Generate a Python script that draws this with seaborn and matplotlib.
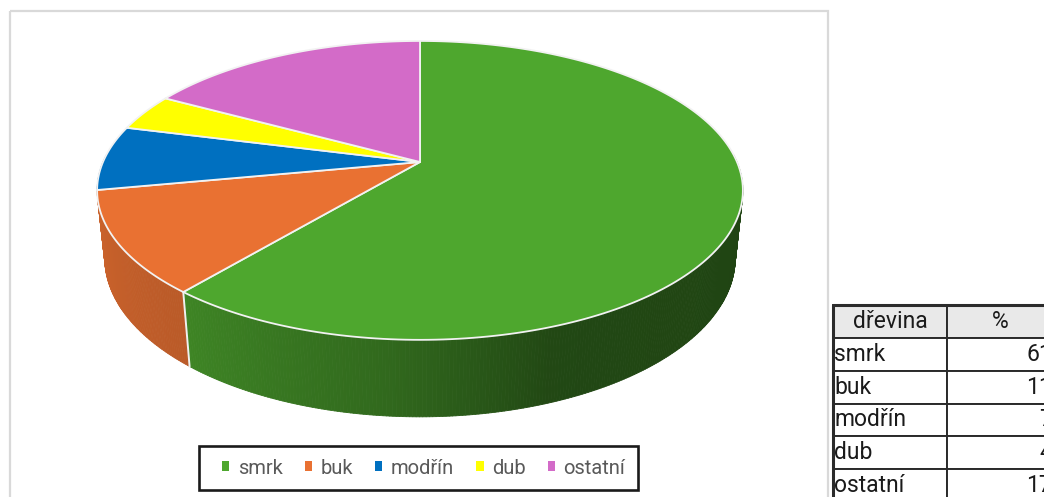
import numpy as np
import matplotlib
matplotlib.use("Agg")
import matplotlib.pyplot as plt
from matplotlib.patches import Polygon, Rectangle, Patch
from matplotlib.collections import PolyCollection
import seaborn as sns

# Tree species composition (%)
species = ["smrk", "buk", "modřín", "dub", "ostatní"]
shares = [61, 11, 7, 4, 17]
slice_colors = ["#4EA72E", "#E97132", "#0070C0", "#FFFF00", "#D36BC8"]
table_header = ["dřevina", "%"]

sns.set_theme(style="white")
plt.rcParams["font.family"] = ["Roboto", "DejaVu Sans"]

W, H = 1044, 497
fig = plt.figure(figsize=(W / 100, H / 100), dpi=100)
ax = fig.add_axes([0, 0, 1, 1])
ax.set_xlim(0, W)
ax.set_ylim(H, 0)
ax.axis("off")

# chart area frame
ax.add_patch(Rectangle((10, 11), 818, 520, fill=False, edgecolor="#d9d9d9",
                       lw=1.6, zorder=1))

# --- 3D pie: perspective projection of a tilted disc ---
CX, CY, R = 420, 162, 317
sin_e = 0.4544
cos_e = np.sqrt(1 - sin_e ** 2)
dist = 4.687
thick = 0.242


def project(theta, z, r=1.0):
    X = r * np.sin(theta)
    Y = r * np.cos(theta)
    yv = Y * sin_e + z * cos_e
    depth = Y * cos_e - z * sin_e
    s = dist / (dist + depth)
    return CX + R * X * s, CY - R * yv * s, depth


def side_shade(theta_deg):
    return np.interp(theta_deg, [90, 160, 185, 220, 270],
                     [0.40, 0.43, 0.63, 0.80, 0.90])


vals = np.asarray(shares, dtype=float)
bounds = np.concatenate([[0], np.cumsum(vals) / vals.sum() * 2 * np.pi])

# outer side wall, split into thin strips for the lighting gradient
quads, qcolors, qdepth = [], [], []
for i, col in enumerate(slice_colors):
    t0, t1 = bounds[i], bounds[i + 1]
    n = max(4, int(np.degrees(t1 - t0) * 2))
    ts = np.linspace(t0, t1, n + 1)
    base = np.array(matplotlib.colors.to_rgb(col))
    for a, b in zip(ts[:-1], ts[1:]):
        mid = 0.5 * (a + b)
        if np.cos(mid) > 0.05:
            continue
        xa, ya, da = project(a, 0)
        xb, yb, db = project(b, 0)
        xc, yc, _ = project(b, -thick)
        xd, yd, _ = project(a, -thick)
        quads.append([(xa, ya), (xb, yb), (xc, yc), (xd, yd)])
        qcolors.append(np.clip(base * side_shade(np.degrees(mid)), 0, 1))
        qdepth.append(0.5 * (da + db))
order = np.argsort(qdepth)[::-1]
ax.add_collection(PolyCollection([quads[k] for k in order],
                                 facecolors=[qcolors[k] for k in order],
                                 edgecolors=[qcolors[k] for k in order],
                                 linewidths=0.6, zorder=2))

# vertical seams between slices on the visible wall
for t in bounds[1:-1]:
    if np.cos(t) < -0.25:
        x0, y0, _ = project(t, 0)
        x1, y1, _ = project(t, -thick)
        ax.plot([x0, x1], [y0, y1], color="#f0f0f0", lw=1.4, zorder=3)

# top face
cx0, cy0, _ = project(0, 0, r=0)
for i, col in enumerate(slice_colors):
    ts = np.linspace(bounds[i], bounds[i + 1], 200)
    px, py, _ = project(ts, 0)
    pts = np.column_stack([np.r_[cx0, px], np.r_[cy0, py]])
    ax.add_patch(Polygon(pts, closed=True, facecolor=col, edgecolor="#f2f2f2",
                         lw=1.3, joinstyle="round", zorder=4))

# legend (entries placed inside a separately drawn box)
handles = [Patch(facecolor=c, edgecolor="none", label=s)
           for s, c in zip(species, slice_colors)]
leg = fig.legend(handles=handles, loc="center left", ncol=5,
                 bbox_to_anchor=(222 / W, 1 - 468 / H), frameon=False,
                 fontsize=14.5, labelcolor="#595959",
                 handlelength=0.37, handleheight=0.37, handletextpad=0.41,
                 columnspacing=1.1, borderpad=0, borderaxespad=0)
ax.add_patch(Rectangle((199, 446), 439, 44, fill=False, edgecolor="#1a1a1a",
                       lw=1.9, zorder=5))

# data table
cell_text = [[s, f"{v}"] for s, v in zip(species, shares)]
x0, x1 = 833, 1053
y_top, y_bot = 305, 502
tbl = ax.table(cellText=cell_text, colLabels=table_header,
               cellLoc="left", colWidths=[114, 106],
               bbox=[x0 / W, 1 - y_bot / H, (x1 - x0) / W, (y_bot - y_top) / H])
tbl.auto_set_font_size(False)
for (r, c), cell in tbl.get_celld().items():
    cell.set_edgecolor("#2b2b2b")
    cell.set_linewidth(1.4)
    cell.get_text().set_fontsize(16.5)
    cell.get_text().set_color("#1a1a1a")
    cell.PAD = 0.01
    if r == 0:
        cell.set_facecolor("#e9e9e9")
        cell.get_text().set_ha("center")
        cell._loc = "center"
    elif c == 1:
        cell.get_text().set_ha("right")
        cell._loc = "right"
tbl.set_clip_on(False)
ax.add_patch(Rectangle((x0, y_top), x1 - x0, y_bot - y_top, fill=False,
                       edgecolor="#2b2b2b", lw=2.2, zorder=10))

fig.savefig("out.png", dpi=100)
